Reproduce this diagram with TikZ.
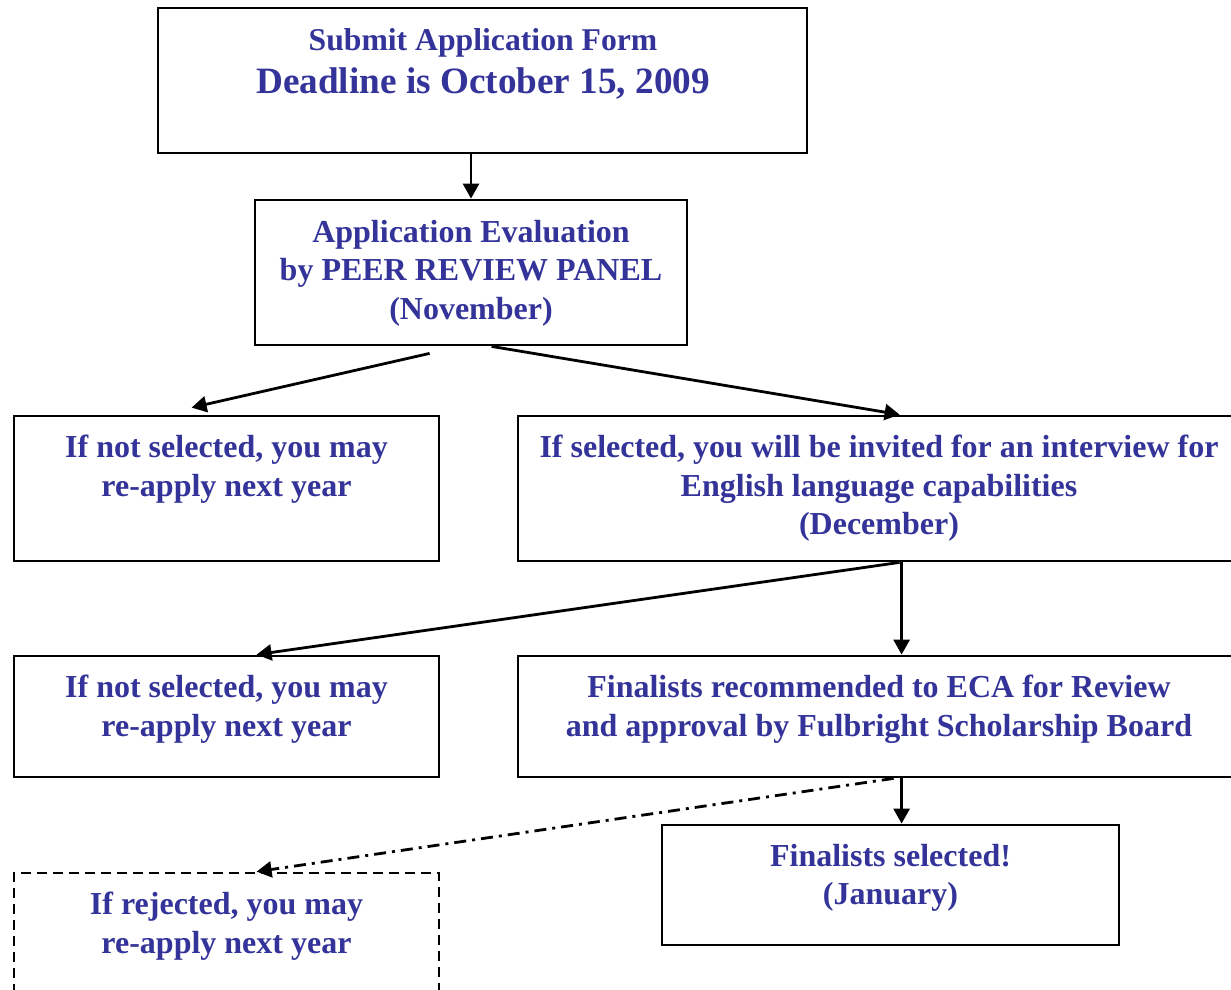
\documentclass[tikz,border=0pt]{standalone}
\usepackage{fontspec}
\setmainfont{Liberation Serif}
\usetikzlibrary{arrows.meta,calc}
\definecolor{txtblue}{HTML}{333399}
\begin{document}
\begin{tikzpicture}[x=1pt,y=-1pt,
  box/.style={draw=black,line width=2.8pt,rectangle,inner sep=0pt},
  dbox/.style={box,dash pattern=on 10pt off 6pt},
  lbl/.style={text=txtblue,font=\bfseries\fontsize{32}{38.5}\selectfont,align=center,inner sep=0pt,anchor=north},
  arr/.style={line width=2.8pt,-{Triangle[length=15pt,width=16pt]}},
  dasharr/.style={arr,dash pattern=on 12pt off 6pt on 3pt off 6pt},
]
\useasboundingbox (0,0) rectangle (1231,989);
\clip (0,0) rectangle (1231,989);
\fill[white] (0,0) rectangle (1231,989);

% boxes
\node[box,minimum width=649pt,minimum height=145pt] (b1) at (482.5,80.5) {};
\node[box,minimum width=432pt,minimum height=145pt] (b2) at (471,272.5) {};
\node[box,minimum width=425pt,minimum height=145pt] (l1) at (226.5,488.5) {};
\node[box,minimum width=722pt,minimum height=145pt] (r1) at (879,488.5) {};
\node[box,minimum width=425pt,minimum height=121pt] (l2) at (226.5,716.5) {};
\node[box,minimum width=722pt,minimum height=121pt] (r2) at (879,716.5) {};
\node[box,minimum width=457pt,minimum height=120pt] (fs) at (890.5,885) {};
\node[dbox,minimum width=425pt,minimum height=127pt] (rj) at (226.5,936.5) {};

% texts
\node[lbl,anchor=base,font=\bfseries\fontsize{31.7}{36}\selectfont] (t1a) at (483,50) {Submit Application Form};
\node[lbl,anchor=base,font=\bfseries\fontsize{37.2}{42}\selectfont] (t1b) at (483,93) {Deadline is October 15, 2009};
\node[lbl] (t2) at (471,220) {Application Evaluation\\by PEER REVIEW PANEL\\(November)};
\node[lbl] (tl1) at (226.5,435) {If not selected, you may\\re-apply next year};
\node[lbl] (tr1) at (879,435) {If selected, you will be invited for an interview for\\English language capabilities\\(December)};
\node[lbl] (tl2) at (226.5,675) {If not selected, you may\\re-apply next year};
\node[lbl] (tr2) at (879,675) {Finalists recommended to ECA for Review\\and approval by Fulbright Scholarship Board};
\node[lbl] (tfs) at (890.5,844) {Finalists selected!\\(January)};
\node[lbl] (trj) at (226.5,892) {If rejected, you may\\re-apply next year};

% connector end points
\coordinate (s2) at ($(b2.south west)+(176,7)$);
\coordinate (e2) at ($(l1.north west)+(179,-7)$);
\coordinate (s3) at ($(b2.south west)+(238,0)$);
\coordinate (e3) at ($(r1.north west)+(383,0)$);
\coordinate (s4) at ($(r1.south west)+(383,0)$);
\coordinate (e4) at ($(l2.north west)+(244,0)$);
\coordinate (s5) at ($(r1.south west)+(385,0)$);
\coordinate (e5) at ($(r2.north west)+(385,0)$);
\coordinate (s6) at ($(r2.south west)+(385,0)$);
\coordinate (e6) at (s6 |- fs.north);
\coordinate (s7) at ($(r2.south west)+(377,0)$);
\coordinate (e7) at ($(rj.north west)+(244,0)$);

% connectors
\draw[arr] (b1.south -| b2.north) -- (b2.north);
\draw[arr] (s2) -- (e2);
\draw[arr] (s3) -- (e3);
\draw[arr] (s4) -- (e4);
\draw[arr] (s5) -- (e5);
\draw[arr] (s6) -- (e6);
\draw[dasharr] (s7) -- (e7);
\end{tikzpicture}
\end{document}
